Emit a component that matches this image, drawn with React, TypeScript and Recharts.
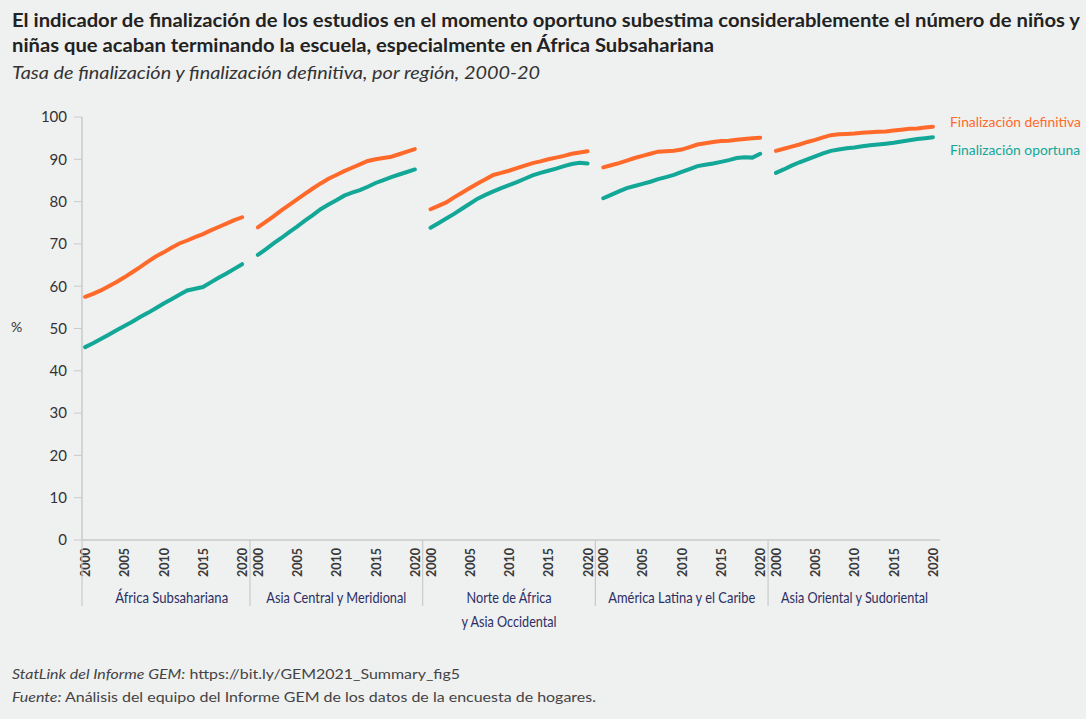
import React from 'react';
import { LineChart, Line, XAxis, YAxis } from 'recharts';

// años de cada panel
const years = [
  2000, 2001, 2002, 2003, 2004, 2005, 2006, 2007, 2008, 2009, 2010,
  2011, 2012, 2013, 2014, 2015, 2016, 2017, 2018, 2019, 2020,
];

const regions = [
  'África Subsahariana',
  'Asia Central y Meridional',
  'Norte de África|y Asia Occidental',
  'América Latina y el Caribe',
  'Asia Oriental y Sudoriental',
];

// Finalización definitiva (%)
const africaDef = [57.5, 58.2, 59.0, 60.0, 61.0, 62.1, 63.3, 64.5, 65.8, 67.0, 68.0, 69.1, 70.1, 70.8, 71.6, 72.3, 73.2, 74.0, 74.8, 75.6, 76.3];
const asiaCentralDef = [73.9, 75.2, 76.5, 77.9, 79.2, 80.5, 81.8, 83.1, 84.3, 85.4, 86.3, 87.2, 88.0, 88.8, 89.6, 90.0, 90.3, 90.6, 91.2, 91.8, 92.4];
const norteAfricaDef = [78.2, 79.0, 79.8, 81.0, 82.1, 83.2, 84.3, 85.3, 86.3, 86.8, 87.3, 87.9, 88.5, 89.1, 89.5, 90.0, 90.4, 90.8, 91.3, 91.6, 91.9];
const latamDef = [88.1, 88.6, 89.1, 89.7, 90.3, 90.8, 91.3, 91.8, 91.9, 92.0, 92.3, 92.9, 93.5, 93.8, 94.1, 94.3, 94.4, 94.6, 94.8, 95.0, 95.1];
const asiaOrientalDef = [92.0, 92.5, 93.0, 93.5, 94.1, 94.6, 95.2, 95.7, 95.9, 96.0, 96.1, 96.3, 96.4, 96.5, 96.6, 96.8, 97.0, 97.2, 97.3, 97.5, 97.7];

// Finalización oportuna (%)
const africaOpo = [45.6, 46.5, 47.5, 48.5, 49.6, 50.6, 51.6, 52.7, 53.7, 54.8, 55.9, 56.9, 58.0, 59.0, 59.4, 59.8, 60.9, 62.0, 63.0, 64.1, 65.2];
const asiaCentralOpo = [67.4, 68.7, 70.1, 71.4, 72.8, 74.1, 75.5, 76.8, 78.2, 79.3, 80.3, 81.4, 82.1, 82.7, 83.5, 84.4, 85.1, 85.8, 86.4, 87.0, 87.6];
const norteAfricaOpo = [73.8, 74.9, 76.0, 77.1, 78.3, 79.5, 80.7, 81.6, 82.4, 83.2, 83.9, 84.6, 85.4, 86.2, 86.8, 87.3, 87.8, 88.4, 88.9, 89.2, 89.0];
const latamOpo = [80.8, 81.6, 82.4, 83.2, 83.7, 84.2, 84.7, 85.3, 85.8, 86.3, 87.0, 87.7, 88.4, 88.7, 89.0, 89.4, 89.8, 90.3, 90.5, 90.4, 91.3];
const asiaOrientalOpo = [86.8, 87.6, 88.5, 89.3, 90.0, 90.7, 91.4, 92.0, 92.3, 92.6, 92.8, 93.1, 93.3, 93.5, 93.7, 93.9, 94.2, 94.5, 94.8, 95.0, 95.2];

const yearTicks = [2000, 2005, 2010, 2015, 2020];
const yTicks = [0, 10, 20, 30, 40, 50, 60, 70, 80, 90, 100];

const definitiva = [africaDef, asiaCentralDef, norteAfricaDef, latamDef, asiaOrientalDef];
const oportuna = [africaOpo, asiaCentralOpo, norteAfricaOpo, latamOpo, asiaOrientalOpo];

// anchos de texto medidos en la figura (fuente condensada)
const regionWidths = [[113], [140], [85, 95], [147], [147]];

const ORANGE = '#ff6a2a';
const TEAL = '#12a797';
const FONT = "Lato, 'Open Sans', 'Noto Sans', sans-serif";
const STEP = 22; // separación entre paneles en el eje x
const X_MIN = -0.4;
const X_MAX = 108.9;

const toSeries = (vals: number[], i: number) =>
  years.map((yr, k) => ({ x: i * STEP + (yr - 2000), v: vals[k] }));

// ticks: años, separadores y centros de región
const xTicks: number[] = [];
const tickKind: Record<string, { kind: string; label?: string; idx?: number }> = {};
regions.forEach((r, i) => {
  yearTicks.forEach((yr) => {
    const t = i * STEP + (yr - 2000);
    xTicks.push(t);
    tickKind[String(t)] = { kind: 'year', label: String(yr) };
  });
  const c = i * STEP + 10.001;
  xTicks.push(c);
  tickKind[String(c)] = { kind: 'region', label: r, idx: i };
  const s = i === 0 ? X_MIN : i * STEP - 1;
  xTicks.push(s);
  tickKind[String(s)] = { kind: 'sep' };
});

function XTick(props: any) {
  const { x, y, payload } = props;
  const info = tickKind[String(payload.value)];
  if (!info) return null;
  if (info.kind === 'year') {
    return (
      <text
        transform={`translate(${x + 5},${y + 8}) rotate(-90)`}
        textAnchor="end"
        fontSize={14}
        fontFamily={FONT}
        fontWeight="bold"
        fill="#3a3a3a"
        textLength={29}
        lengthAdjust="spacingAndGlyphs"
      >
        {info.label}
      </text>
    );
  }
  if (info.kind === 'sep') {
    return <line x1={x} x2={x} y1={y} y2={y + 66} stroke="#c9cbcb" strokeWidth={1.2} />;
  }
  const parts = (info.label || '').split('|');
  const widths = regionWidths[info.idx || 0];
  const dx = info.idx === 0 ? 8 : 0;
  return (
    <g>
      {parts.map((p, k) => (
        <text
          key={k}
          x={x + dx}
          y={y + 63 + k * 24}
          textAnchor="middle"
          fontSize={15}
          fontFamily={FONT}
          fill="#2c2f63"
          textLength={widths[k]}
          lengthAdjust="spacingAndGlyphs"
        >
          {p}
        </text>
      ))}
    </g>
  );
}

function Fit(props: { x: number; y: number; w: number; size: number; children: any; [k: string]: any }) {
  const { x, y, w, size, children, ...rest } = props;
  return (
    <text x={x} y={y} fontSize={size} textLength={w} lengthAdjust="spacingAndGlyphs" {...rest}>
      {children}
    </text>
  );
}

export default function App() {
  return (
    <div
      style={{
        position: 'absolute',
        left: 0,
        top: 0,
        width: 1086,
        height: 719,
        background: '#eff0f0',
        overflow: 'hidden',
      }}
    >
      <div style={{ position: 'absolute', left: 0, top: 0 }}>
        <LineChart width={1086} height={719} margin={{ top: 117, right: 146, bottom: 79, left: 37 }}>
          <XAxis
            type="number"
            dataKey="x"
            domain={[X_MIN, X_MAX]}
            ticks={xTicks}
            interval={0}
            tick={<XTick />}
            tickLine={false}
            tickSize={0}
            tickMargin={0}
            height={100}
            axisLine={{ stroke: '#c9cbcb', strokeWidth: 1.5 }}
            allowDataOverflow
          />
          <YAxis
            domain={[0, 100]}
            ticks={yTicks}
            width={45}
            tickSize={8}
            tickMargin={7}
            tickLine={{ stroke: '#c9cbcb' }}
            axisLine={{ stroke: '#c9cbcb', strokeWidth: 1.5 }}
            tick={{ fontSize: 15, fill: '#333', fontFamily: FONT }}
          />
          {regions.map((r, i) => (
            <Line
              key={'d' + i}
              data={toSeries(definitiva[i], i)}
              dataKey="v"
              stroke={ORANGE}
              strokeWidth={4}
              strokeLinecap="round"
              dot={false}
              activeDot={false}
              isAnimationActive={false}
            />
          ))}
          {regions.map((r, i) => (
            <Line
              key={'o' + i}
              data={toSeries(oportuna[i], i)}
              dataKey="v"
              stroke={TEAL}
              strokeWidth={4}
              strokeLinecap="round"
              dot={false}
              activeDot={false}
              isAnimationActive={false}
            />
          ))}
        </LineChart>
      </div>

      <svg
        width={1086}
        height={719}
        style={{ position: 'absolute', left: 0, top: 0, pointerEvents: 'none' }}
        fontFamily={FONT}
      >
        <Fit x={12} y={27} w={1068} size={19} fontWeight="bold" fill="#222">
          El indicador de finalización de los estudios en el momento oportuno subestima considerablemente el número de niños y
        </Fit>
        <Fit x={12} y={52} w={702} size={19} fontWeight="bold" fill="#222">
          niñas que acaban terminando la escuela, especialmente en África Subsahariana
        </Fit>
        <Fit x={12} y={79} w={528} size={18} fontStyle="italic" fill="#333">
          Tasa de finalización y finalización definitiva, por región, 2000-20
        </Fit>
        <text x={11} y={332} fontSize={14} fill="#333">%</text>
        <Fit x={950} y={127} w={131} size={13.5} fill={ORANGE}>
          Finalización definitiva
        </Fit>
        <Fit x={950} y={155} w={130} size={13.5} fill={TEAL}>
          Finalización oportuna
        </Fit>
        <Fit x={12} y={679} w={448} size={14} fill="#444">
          <tspan fontStyle="italic">StatLink del Informe GEM:</tspan> https://bit.ly/GEM2021_Summary_fig5
        </Fit>
        <Fit x={12} y={702} w={584} size={14} fill="#444">
          <tspan fontStyle="italic">Fuente:</tspan> Análisis del equipo del Informe GEM de los datos de la encuesta de hogares.
        </Fit>
      </svg>
    </div>
  );
}
